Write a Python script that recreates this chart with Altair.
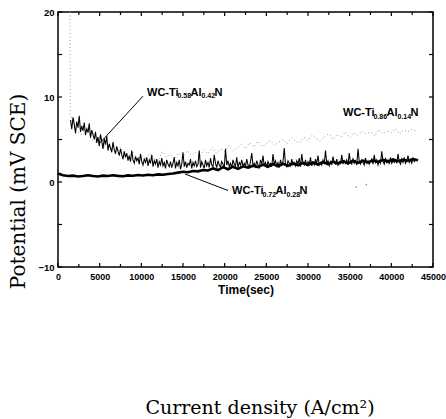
import altair as alt
import pandas as pd

# ---------------- values ----------------
# WC-Ti0.58Al0.42N : noisy dark trace, one reading every 150 s from 1500 s
T58_START, T58_STEP = 1500, 150
V58 = [
    7.3, 6.2, 7.6, 6.8, 5.7, 7.1, 6.4, 7.8, 5.9, 6.6, 6.0, 7.0, 5.5, 6.3, 5.8, 6.9, 5.2, 6.1, 5.6, 5.0,
    5.9, 4.6, 5.3, 4.2, 5.6, 4.8, 3.9, 5.1, 4.4, 5.4, 3.7, 4.5, 4.0, 3.5, 4.7, 3.8, 3.3, 4.2, 3.6, 3.1,
    3.9, 3.2, 2.7, 3.6, 2.9, 3.4, 2.5, 3.1, 2.4, 3.7, 2.6, 2.2, 3.0, 2.5, 2.8, 2.1, 3.3, 2.4, 2.0, 2.7,
    2.3, 2.9, 1.9, 2.6, 2.2, 3.2, 1.8, 2.5, 2.1, 2.7, 1.7, 2.4, 2.0, 2.8, 1.9, 2.3, 1.6, 2.6, 2.1, 1.8,
    2.4, 1.7, 2.2, 2.9, 1.6, 2.3, 1.9, 2.6, 1.5, 2.1, 3.5, 1.8, 2.4, 1.7, 2.2, 2.0, 2.7, 1.6, 2.3, 1.9,
    2.5, 1.8, 2.1, 3.7, 1.7, 2.4, 2.0, 1.6, 2.6, 1.9, 2.3, 1.7, 2.8, 2.0, 1.8, 3.2, 2.2, 1.7, 2.5, 2.0,
    1.8, 2.4, 2.1, 1.6, 3.9, 2.0, 2.5, 1.8, 2.2, 1.7, 2.6, 2.1, 1.9, 2.9, 1.7, 2.3, 2.0, 2.6, 1.8, 2.2,
    1.9, 2.7, 2.0, 1.7, 2.4, 3.4, 1.9, 2.2, 1.8, 2.5, 2.0, 1.7, 2.6, 2.1, 3.1, 1.9, 2.3, 1.8, 2.4, 2.0,
    2.2, 1.8, 3.3, 2.1, 2.5, 1.9, 2.3, 1.7, 2.6, 2.0, 2.4, 4.0, 2.1, 1.8, 2.5, 2.2, 1.9, 2.7, 2.0, 2.3,
    1.9, 2.5, 2.1, 2.8, 1.8, 3.3, 2.2, 2.0, 2.6, 1.9, 2.4, 2.1, 2.9, 1.9, 2.3, 2.0, 2.7, 2.2, 3.1, 2.0,
    2.3, 2.0, 2.6, 2.1, 3.7, 2.2, 2.5, 1.9, 2.4, 2.0, 3.0, 2.3, 2.1, 2.7, 2.0, 2.4, 2.2, 3.2, 2.1, 2.5,
    2.2, 2.6, 2.0, 3.4, 2.3, 2.1, 2.7, 2.2, 2.5, 2.0, 3.9, 2.4, 2.1, 2.6, 2.3, 2.0, 2.8, 2.2, 2.5, 2.1,
    2.4, 2.7, 2.1, 3.2, 2.3, 2.6, 2.0, 2.5, 2.2, 3.6, 2.4, 2.1, 2.8, 2.3, 2.6, 2.1, 2.9, 2.2, 2.5, 2.3,
    2.6, 2.2, 3.3, 2.4, 2.1, 2.7, 2.3, 2.9, 2.2, 2.5, 3.1, 2.3, 2.6, 2.2, 2.8, 2.4, 2.6,
]

# WC-Ti0.72Al0.28N : thick solid trace, one reading every 600 s from 0 s
T72_START, T72_STEP = 0, 600
V72 = [
    1.0, 0.8, 0.7, 0.75, 0.65, 0.7, 0.8, 0.7, 0.65, 0.75,
    0.7, 0.8, 0.72, 0.68, 0.78, 0.74, 0.82, 0.76, 0.85, 0.8,
    0.9, 0.86, 0.95, 1.0, 1.1, 1.2, 1.15, 1.3, 1.25, 1.4,
    1.35, 1.6, 1.4, 1.75, 1.5, 1.8, 1.55, 1.85, 1.7, 1.9,
    1.75, 2.05, 1.8, 2.1, 1.85, 2.15, 1.9, 2.2, 1.95, 2.25,
    2.0, 2.3, 2.05, 2.35, 2.1, 2.4, 2.15, 2.45, 2.2, 2.5,
    2.25, 2.5, 2.3, 2.55, 2.35, 2.6, 2.4, 2.65, 2.45, 2.6,
    2.5, 2.7, 2.55,
]

# WC-Ti0.86Al0.14N : grey dotted trace (initial spike, then every 500 s)
T86_SPIKE = [1440, 1470]
V86_SPIKE = [20.0, 8.0]
T86_START, T86_STEP = 2000, 500
V86 = [
    6.2, 5.8, 5.5, 6.4, 5.0, 4.7, 5.3, 4.2, 4.5, 3.9,
    3.6, 4.1, 3.2, 2.9, 3.5, 2.7, 3.1, 2.6, 3.4, 2.8,
    2.4, 3.6, 2.9, 3.2, 2.7, 3.4, 2.9, 3.7, 3.1, 3.5,
    3.0, 3.8, 3.3, 4.1, 3.4, 3.9, 3.6, 4.3, 3.7, 4.0,
    4.4, 3.9, 4.6, 4.1, 4.8, 4.2, 4.5, 4.9, 4.3, 4.7,
    5.0, 4.5, 5.2, 4.8, 4.6, 5.3, 4.9, 5.5, 5.1, 4.8,
    5.4, 5.7, 5.0, 5.6, 5.3, 5.9, 5.2, 5.8, 5.5, 6.0,
    5.6, 5.9, 5.4, 6.2, 5.7, 6.0, 5.8, 6.3, 5.6, 6.1,
    5.9, 6.2, 6.0,
]
T86_OUT = [35800, 37000]
V86_OUT = [-0.6, -0.3]

# axis ticks
X_MAJOR = [0, 5000, 10000, 15000, 20000, 25000, 30000, 35000, 40000, 45000]
X_MINOR = [2500, 7500, 12500, 17500, 22500, 27500, 32500, 37500, 42500]
Y_MAJOR = [-10, 0, 10, 20]
Y_MINOR = [-5, 5, 15]

# curve labels (left end of text) and leader lines
LABEL_T = [10680, 20880, 34200]
LABEL_V = [10.5, -1.1, 8.1]
LABEL_SUB1 = ["0.58", "0.72", "0.86"]
LABEL_SUB2 = ["0.42", "0.28", "0.14"]
LEAD_T1 = [10200, 15240]
LEAD_V1 = [10.1, 0.94]
LEAD_T2 = [5040, 20400]
LEAD_V2 = [4.6, -1.0]

CAPTION = "Current density (A/cm\u00b2)"

# ---------------- tables ----------------
df58 = pd.DataFrame({"t": [T58_START + i * T58_STEP for i in range(len(V58))], "v": V58})
df72 = pd.DataFrame({"t": [T72_START + i * T72_STEP for i in range(len(V72))], "v": V72})
df86 = pd.DataFrame({
    "t": T86_SPIKE + [T86_START + i * T86_STEP for i in range(len(V86))],
    "v": V86_SPIKE + V86,
})
df86o = pd.DataFrame({"t": T86_OUT, "v": V86_OUT})
dflab = pd.DataFrame({
    "t": LABEL_T, "v": LABEL_V,
    "p0": ["WC-Ti"] * 3, "p1": LABEL_SUB1, "p2": ["Al"] * 3, "p3": LABEL_SUB2, "p4": ["N"] * 3,
})
dflead = pd.DataFrame({"t": LEAD_T1, "v": LEAD_V1, "t2": LEAD_T2, "v2": LEAD_V2})
dfxmaj = pd.DataFrame({"t": X_MAJOR})
dfxmin = pd.DataFrame({"t": X_MINOR})
dfymaj = pd.DataFrame({"v": Y_MAJOR})
dfymin = pd.DataFrame({"v": Y_MINOR})
dfcap = pd.DataFrame({"txt": [CAPTION]})

W, H = 375, 255
SANS = "Liberation Sans, Arial, sans-serif"

xs = alt.Scale(domain=[0, 45000], nice=False)
ys = alt.Scale(domain=[-10, 20], nice=False)

xaxis = alt.Axis(
    values=X_MAJOR, format="d", tickSize=0, domain=False, grid=False,
    labelFont=SANS, labelFontSize=9, labelFontWeight="bold", labelColor="black",
    labelPadding=5, labelFlush=False,
    title="Time(sec)", titleFont=SANS, titleFontSize=12, titleFontWeight="bold",
    titleColor="black", titleY=22, titleBaseline="middle",
)
yaxis = alt.Axis(
    values=Y_MAJOR, format="d", tickSize=0, domain=False, grid=False,
    labelFont=SANS, labelFontSize=9.5, labelFontWeight="bold", labelColor="black",
    labelPadding=4,
    title="Potential (mV SCE)", titleFont="DejaVu Serif", titleFontSize=20,
    titleFontWeight="normal", titleColor="black", titleAngle=270,
    titleX=-40, titleY=179, titleAlign="center", titleBaseline="middle",
)

X = alt.X("t:Q", scale=xs, axis=xaxis)
Y = alt.Y("v:Q", scale=ys, axis=yaxis)

grey = alt.Chart(df86).mark_line(color="#999999", strokeWidth=1, strokeDash=[1, 2.5]).encode(
    x=X, y=Y, order="t:Q")
grey_out = alt.Chart(df86o).mark_circle(color="#999999", size=3, opacity=1).encode(x=X, y=Y)
dark = alt.Chart(df58).mark_line(color="black", strokeWidth=1.05).encode(x=X, y=Y, order="t:Q")
solid = alt.Chart(df72).mark_line(color="black", strokeWidth=2.6).encode(x=X, y=Y, order="t:Q")

tick_layers = []
for d, ln in ((dfxmaj, 4), (dfxmin, 3)):
    tick_layers.append(alt.Chart(d).mark_rule(color="black", strokeWidth=1.2).encode(
        x=alt.X("t:Q", scale=xs), y=alt.value(H), y2=alt.value(H - ln)))
    tick_layers.append(alt.Chart(d).mark_rule(color="black", strokeWidth=1.2).encode(
        x=alt.X("t:Q", scale=xs), y=alt.value(0), y2=alt.value(ln)))
for d, ln in ((dfymaj, 4), (dfymin, 4)):
    tick_layers.append(alt.Chart(d).mark_rule(color="black", strokeWidth=1.2).encode(
        y=alt.Y("v:Q", scale=ys), x=alt.value(0), x2=alt.value(ln)))
    tick_layers.append(alt.Chart(d).mark_rule(color="black", strokeWidth=1.2).encode(
        y=alt.Y("v:Q", scale=ys), x=alt.value(W), x2=alt.value(W - ln)))

leads = alt.Chart(dflead).mark_rule(color="black", strokeWidth=1).encode(
    x=alt.X("t:Q", scale=xs), y=alt.Y("v:Q", scale=ys), x2="t2:Q", y2="v2:Q")

MAIN, SUB = 11, 7
parts = [("p0", MAIN, 0, 0), ("p1", SUB, 30.5, 3.5), ("p2", MAIN, 43.5, 0),
         ("p3", SUB, 54.5, 3.5), ("p4", MAIN, 67.5, 0)]
label_layers = []
for col, size, dx, dy in parts:
    label_layers.append(alt.Chart(dflab).mark_text(
        align="left", baseline="middle", dx=dx, dy=dy, font=SANS, fontSize=size,
        fontWeight="bold", color="black").encode(
        x=alt.X("t:Q", scale=xs), y=alt.Y("v:Q", scale=ys), text=f"{col}:N"))

caption = alt.Chart(dfcap).mark_text(
    font="DejaVu Serif", fontSize=19, color="black", align="center", baseline="middle").encode(
    x=alt.value(202), y=alt.value(396), text="txt:N")

chart = alt.layer(
    grey, grey_out, dark, solid, *tick_layers, leads, *label_layers, caption
).properties(
    width=W, height=H, background="white",
    autosize=alt.AutoSizeParams(type="none"),
    padding={"left": 58, "top": 12, "right": 13, "bottom": 152},
).configure_view(stroke="black", strokeWidth=1.5)

chart.save("out.html", embed_options={"renderer": "svg", "actions": False})
